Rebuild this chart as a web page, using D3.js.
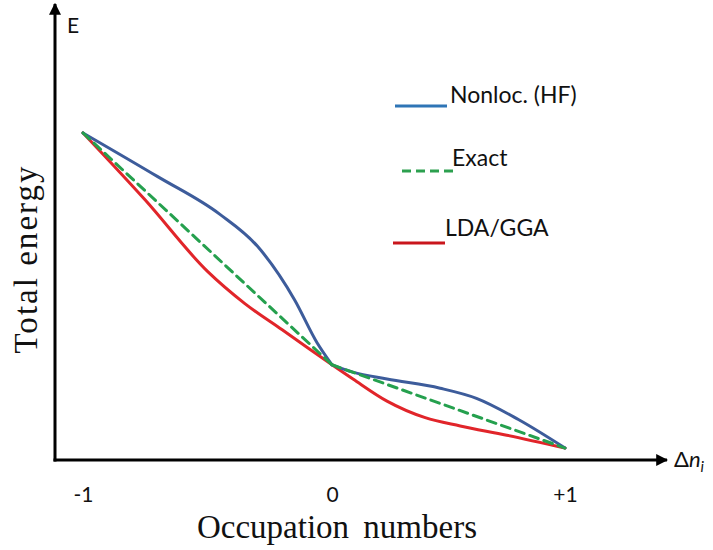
<!DOCTYPE html>
<html>
<head>
<meta charset="utf-8">
<script src="https://cdn.jsdelivr.net/npm/d3@7"></script>
<style>
  html, body { margin: 0; padding: 0; background: #fff; }
  svg { display: block; }
</style>
</head>
<body>
<svg id="chart" width="713" height="550"></svg>
<script>
// ---- data ----
const xTicks = [-1, 0, 1];
const tickLabels = ["-1", "0", "+1"];

const seriesNames = ["Nonloc. (HF)", "Exact", "LDA/GGA"];

const hfX  = [-1, -0.7, -0.45, -0.3, -0.15, -0.06, 0, 0.09, 0.236, 0.464, 0.62, 0.8, 1];
const hfY  = [71.1, 61.6, 53.4, 46.5, 34.8, 25.5, 20.7, 19.1, 17.6, 15.6, 13.4, 8.8, 2.6];

const exactX = [-1, 0, 1];
const exactY = [71.1, 20.7, 2.6];

const ldaX = [-1, -0.75, -0.5, -0.35, -0.2, 0, 0.09, 0.236, 0.4, 0.55, 0.75, 1];
const ldaY = [71.1, 56.5, 41.0, 34.0, 28.3, 20.7, 17.6, 12.8, 9.2, 7.4, 5.4, 2.6];

// ---- layout ----
const W = 713, H = 550;
const axisX0 = 55, axisY0 = 460, axisXEnd = 669, axisYEnd = 2;
const curveColors = { hf: "#3d5c9b", exact: "#25a04e", lda: "#e1252a" };
const legendColors = ["#2e75b6", "#2ca04f", "#c9161c"];

const svg = d3.select("#chart");
svg.append("rect").attr("width", W).attr("height", H).attr("fill", "#fff");

const x = d3.scaleLinear().domain([-1, 0, 1]).range([83, 332, 565]);
const y = d3.scaleLinear().domain([0, 100]).range([axisY0, 0]);

// arrow marker
const defs = svg.append("defs");
defs.append("marker")
  .attr("id", "arrow")
  .attr("viewBox", "0 0 10 10")
  .attr("refX", 9).attr("refY", 5)
  .attr("markerWidth", 4).attr("markerHeight", 4)
  .attr("markerUnits", "strokeWidth")
  .attr("orient", "auto")
  .append("path").attr("d", "M0,0 L10,5 L0,10 Z").attr("fill", "#000");

// axes lines
svg.append("line")
  .attr("x1", axisX0).attr("y1", axisY0 + 1.5)
  .attr("x2", axisX0).attr("y2", axisYEnd + 2)
  .attr("stroke", "#000").attr("stroke-width", 3)
  .attr("marker-end", "url(#arrow)");
svg.append("line")
  .attr("x1", axisX0 - 1.5).attr("y1", axisY0)
  .attr("x2", axisXEnd - 2).attr("y2", axisY0)
  .attr("stroke", "#000").attr("stroke-width", 3)
  .attr("marker-end", "url(#arrow)");

// tick labels via d3 axis
const xAxis = d3.axisBottom(x)
  .tickValues(xTicks)
  .tickFormat((d, i) => tickLabels[i])
  .tickSize(0)
  .tickPadding(27);
const gx = svg.append("g").attr("transform", `translate(0,${axisY0})`).call(xAxis);
gx.select(".domain").remove();
gx.selectAll("text")
  .attr("font-family", "Lato, 'Open Sans', sans-serif")
  .attr("font-size", 21)
  .attr("fill", "#111");

// axis end labels
svg.append("text")
  .attr("x", 67).attr("y", 33)
  .attr("font-family", "Lato, 'Open Sans', sans-serif")
  .attr("font-size", 21).attr("fill", "#111")
  .text("E");

const dn = svg.append("text")
  .attr("x", 674).attr("y", 467)
  .attr("font-family", "Lato, 'Open Sans', sans-serif")
  .attr("font-size", 22).attr("fill", "#111");
dn.append("tspan").text("Δ");
dn.append("tspan").attr("font-style", "italic").text("n");
dn.append("tspan").attr("font-style", "italic").attr("font-size", 15).attr("dy", 5).text("i");

// axis titles
svg.append("text")
  .attr("x", 337).attr("y", 538)
  .attr("text-anchor", "middle")
  .attr("font-family", "'Liberation Serif', 'Times New Roman', serif")
  .attr("font-size", 33).attr("fill", "#111")
  .attr("word-spacing", 6)
  .text("Occupation numbers");

svg.append("text")
  .attr("transform", "translate(37,260) rotate(-90)")
  .attr("text-anchor", "middle")
  .attr("font-family", "'Liberation Serif', 'Times New Roman', serif")
  .attr("font-size", 33).attr("fill", "#111")
  .attr("textLength", 187).attr("lengthAdjust", "spacing")
  .text("Total energy");

// curves
function pts(xs, ys) { return xs.map((v, i) => ({ x: v, y: ys[i] })); }
const line = d3.line().x(d => x(d.x)).y(d => y(d.y)).curve(d3.curveMonotoneX);
const straight = d3.line().x(d => x(d.x)).y(d => y(d.y));

function drawSplit(data, color, dash, gen) {
  const left = data.filter(d => d.x <= 0);
  const right = data.filter(d => d.x >= 0);
  [left, right].forEach(seg => {
    svg.append("path")
      .attr("d", gen(seg))
      .attr("fill", "none")
      .attr("stroke", color)
      .attr("stroke-width", 3)
      .attr("stroke-linejoin", "round")
      .attr("stroke-linecap", "round")
      .attr("stroke-dasharray", dash);
  });
}

drawSplit(pts(ldaX, ldaY), curveColors.lda, null, line);
drawSplit(pts(hfX, hfY), curveColors.hf, null, line);
drawSplit(pts(exactX, exactY), curveColors.exact, "9,6", straight);

// legend
const legendLayout = [
  { x1: 395, x2: 447, ly: 106, tx: 450, ty: 103, dash: null },
  { x1: 402, x2: 453, ly: 171, tx: 452, ty: 166, dash: "9,5" },
  { x1: 393, x2: 445, ly: 243, tx: 445, ty: 236, dash: null }
];
const lg = svg.append("g");
seriesNames.forEach((name, i) => {
  const L = legendLayout[i];
  lg.append("line")
    .attr("x1", L.x1).attr("x2", L.x2).attr("y1", L.ly).attr("y2", L.ly)
    .attr("stroke", legendColors[i]).attr("stroke-width", 3)
    .attr("stroke-dasharray", L.dash);
  lg.append("text")
    .attr("x", L.tx).attr("y", L.ty)
    .attr("font-family", "Lato, 'Open Sans', sans-serif")
    .attr("font-size", 23).attr("fill", "#111")
    .text(name);
});
</script>
</body>
</html>
